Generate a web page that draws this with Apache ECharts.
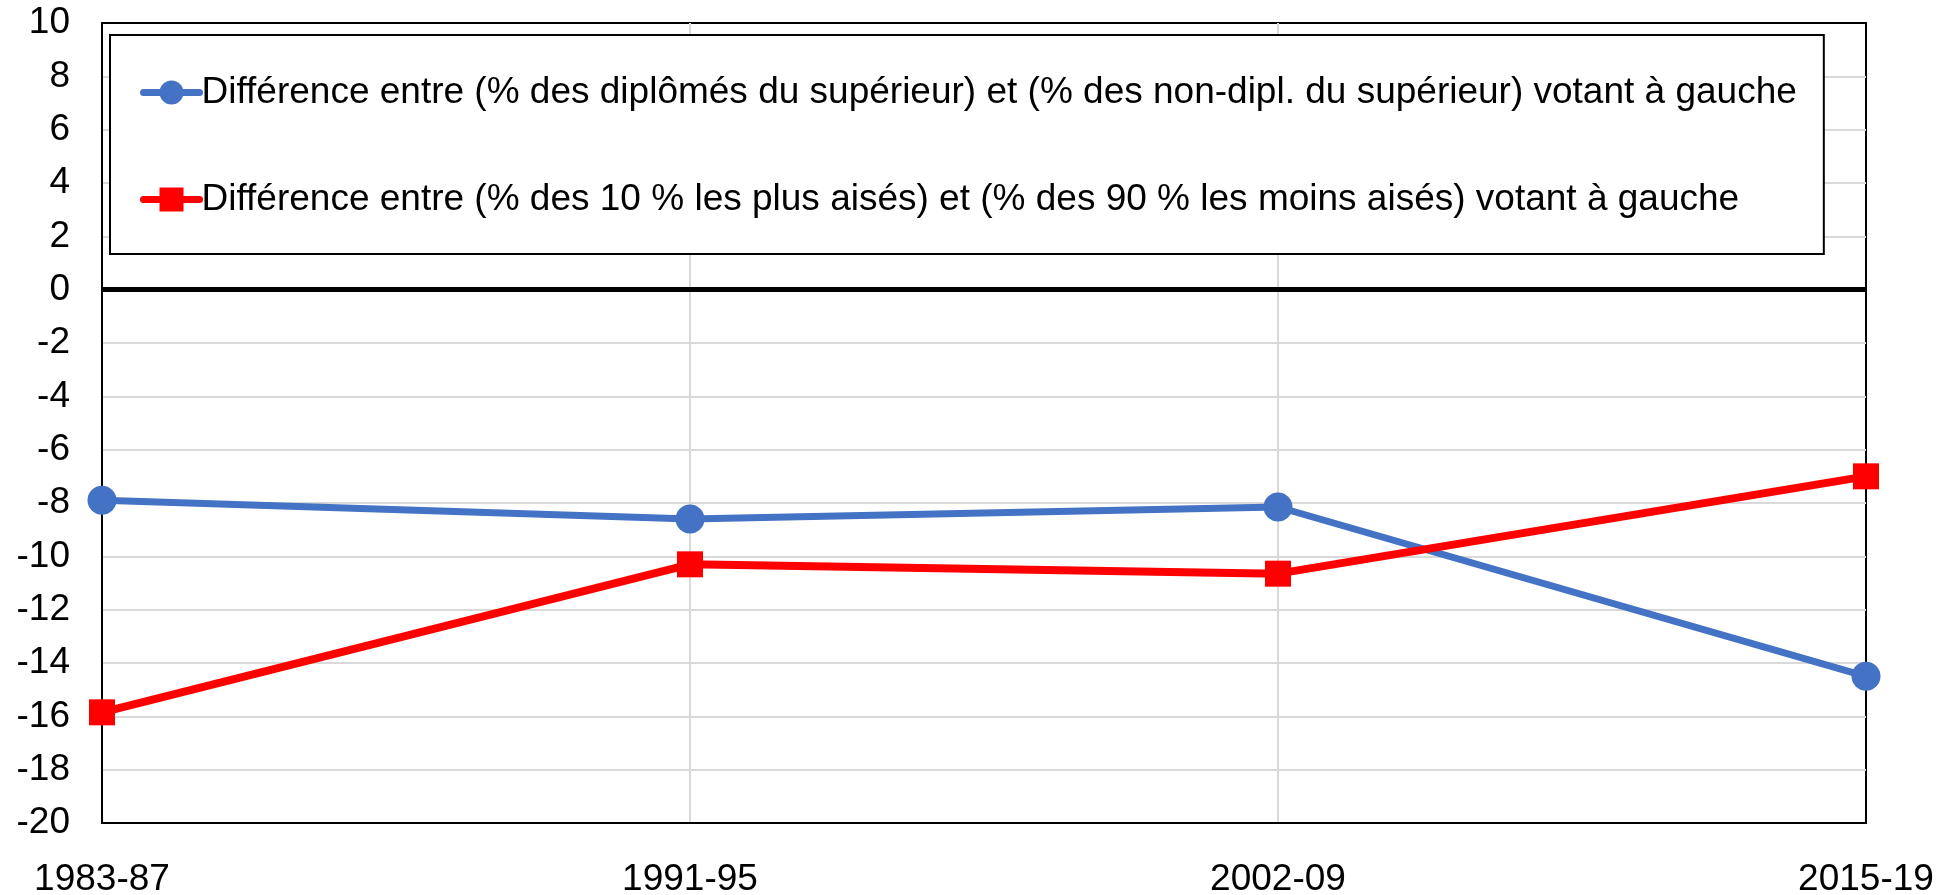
<!DOCTYPE html>
<html>
<head>
<meta charset="utf-8">
<script src="https://cdn.jsdelivr.net/npm/echarts@6/dist/echarts.min.js"></script>
<style>
  html, body { margin: 0; padding: 0; background: #fff; }
  #chart { width: 1953px; height: 895px; }
</style>
</head>
<body>
<div id="chart"></div>
<script>
// périodes électorales
const periodes = ["1983-87", "1991-95", "2002-09", "2015-19"];
// écart diplômés / non-diplômés du supérieur
const ecartDiplomes = [-7.9, -8.6, -8.15, -14.5];
// écart 10 % les plus aisés / 90 % les moins aisés
const ecartAises = [-15.85, -10.3, -10.65, -7.0];
const nomDiplomes = "Différence entre (% des diplômés du supérieur) et (% des non-dipl. du supérieur) votant à gauche";
const nomAises = "Différence entre (% des 10 % les plus aisés) et (% des 90 % les moins aisés) votant à gauche";

const police = "Arial, 'Liberation Sans', sans-serif";
const myChart = echarts.init(document.getElementById("chart"));

const option = {
  animation: false,
  backgroundColor: "#fff",
  color: ["#4472C4", "#FF0000"],
  grid: {
    left: 102,
    right: 87,
    top: 23,
    bottom: 72,
    outerBoundsMode: "none",
    show: true,
    borderColor: "#000",
    borderWidth: 2
  },
  legend: {
    orient: "vertical",
    left: 110,
    top: 35,
    padding: [39, 27, 36, 30],
    itemGap: 70,
    itemWidth: 56,
    itemHeight: 30,
    backgroundColor: "#fff",
    borderColor: "#000",
    borderWidth: 2,
    lineStyle: { width: 7, cap: "round" },
    textStyle: { fontFamily: police, fontSize: 37, color: "#000", padding: [0, 0, 0, -3] },
    data: [nomDiplomes, nomAises]
  },
  xAxis: {
    type: "category",
    data: periodes,
    boundaryGap: false,
    axisLine: { onZero: false, lineStyle: { color: "#000", width: 2 } },
    axisTick: { show: false },
    axisLabel: { fontFamily: police, fontSize: 37, color: "#000", margin: 38 },
    splitLine: { show: true, showMinLine: false, showMaxLine: false, lineStyle: { color: "#d9d9d9", width: 2 } }
  },
  yAxis: {
    type: "value",
    min: -20,
    max: 10,
    interval: 2,
    axisLine: { show: true, lineStyle: { color: "#000", width: 2 } },
    axisTick: { show: false },
    axisLabel: { fontFamily: police, fontSize: 37, color: "#000", margin: 32 },
    splitLine: { showMinLine: false, showMaxLine: false, lineStyle: { color: "#d9d9d9", width: 2 } }
  },
  series: [
    {
      name: nomDiplomes,
      type: "line",
      data: ecartDiplomes,
      symbol: "circle",
      symbolSize: 29,
      lineStyle: { width: 7 },
      // ligne du zéro
      markLine: {
        silent: true,
        symbol: "none",
        label: { show: false },
        lineStyle: { color: "#000", width: 5, type: "solid" },
        data: [{ yAxis: 0 }]
      }
    },
    {
      name: nomAises,
      type: "line",
      data: ecartAises,
      symbol: "rect",
      symbolSize: 26,
      lineStyle: { width: 8 }
    }
  ]
};
myChart.setOption(option);
</script>
</body>
</html>
